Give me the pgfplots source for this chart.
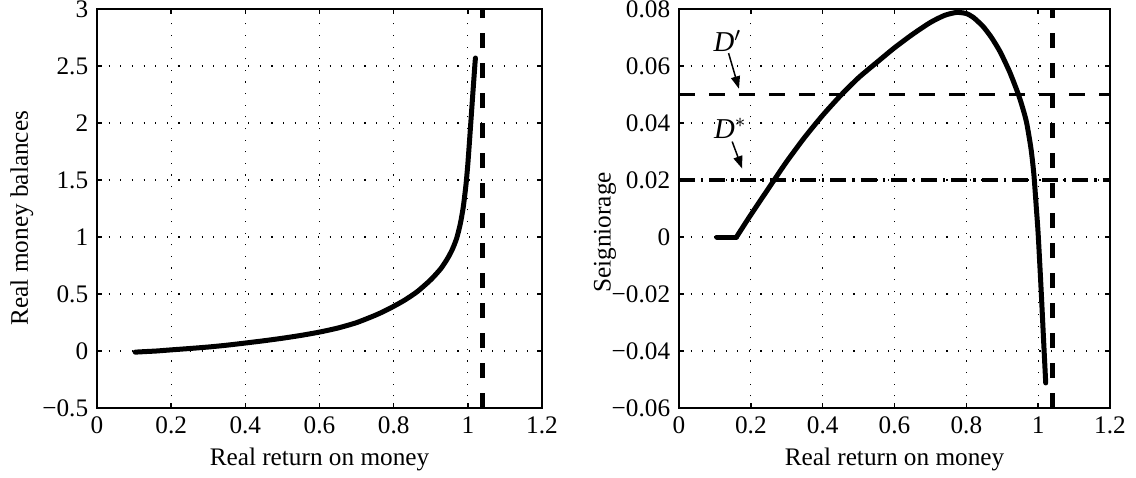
\documentclass[border=0pt]{standalone}
\usepackage{fontspec}
\setmainfont{Liberation Serif}
\usepackage{pgfplots}
\pgfplotsset{compat=1.18}
\usetikzlibrary{arrows.meta}

\pgfplotsset{
  matfig/.style={
    scale only axis, height=159.6pt,
    xmin=0, xmax=1.2,
    xtick={0,0.2,0.4,0.6,0.8,1,1.2},
    xticklabels={0,0.2,0.4,0.6,0.8,1,1.2},
    tick align=inside, tick pos=both,
    major tick length=2pt,
    xmajorgrids, ymajorgrids,
    grid style={black, line width=0.45pt, dash pattern=on 0.45pt off 4.2pt},
    axis line style={line width=0.7pt},
    every tick/.style={black, line width=0.6pt},
    tick label style={font=\fontsize{10.1}{12}\selectfont},
    label style={font=\fontsize{10.1}{12}\selectfont},
    xlabel={Real return on money},
    xlabel style={at={(axis description cs:0.5,-0.128)}, anchor=center},
  },
  curve/.style={black, line width=2pt, line join=round, line cap=round, smooth, tension=0.4},
  pole/.style={black, line width=1.9pt, dash pattern=on 6pt off 6pt},
}

\begin{document}
\begin{tikzpicture}
% left: real money balances
\begin{axis}[matfig, at={(0pt,0pt)}, anchor=south west,
  width=178pt,
  ymin=-0.5, ymax=3,
  ytick={-0.5,0,0.5,1,1.5,2,2.5,3},
  yticklabels={−0.5,0,0.5,1,1.5,2,2.5,3},
  ylabel={Real money balances},
  ylabel style={at={(axis description cs:-0.169,0.476)}, anchor=center},
]
\addplot[curve] coordinates {
  (0.103,-0.010) (0.13,-0.005) (0.16,0.000) (0.20,0.010) (0.25,0.022)
  (0.30,0.035) (0.35,0.051) (0.40,0.070) (0.45,0.090) (0.50,0.112)
  (0.55,0.137) (0.60,0.166) (0.65,0.202) (0.70,0.249) (0.75,0.313)
  (0.773,0.347) (0.80,0.392) (0.83,0.447) (0.864,0.522) (0.90,0.625)
  (0.927,0.722) (0.945,0.810) (0.958,0.890) (0.970,0.990) (0.980,1.120)
  (0.988,1.270) (0.995,1.460) (1.000,1.640) (1.006,1.910) (1.012,2.190)
  (1.019,2.510) (1.0205,2.570)
};
\addplot[pole] coordinates {(1.04,-0.5) (1.04,3)};
\end{axis}

% right: seigniorage
\begin{axis}[matfig, at={(232.8pt,0pt)}, anchor=south west,
  width=172.4pt,
  ymin=-0.06, ymax=0.08,
  ytick={-0.06,-0.04,-0.02,0,0.02,0.04,0.06,0.08},
  yticklabels={−0.06,−0.04,−0.02,0,0.02,0.04,0.06,0.08},
  ylabel={Seigniorage},
  ylabel style={at={(axis description cs:-0.172,0.44)}, anchor=center},
]
\addplot[black, line width=1.5pt, dash pattern=on 6.4pt off 5.6pt] coordinates {(0,0.05) (1.2,0.05)};
\addplot[black, line width=1.5pt, dash pattern=on 6.4pt off 2.4pt on 0.9pt off 2.4pt] coordinates {(0,0.02) (1.2,0.02)};
\addplot[black, line width=2pt, line cap=round] coordinates {(0.105,0) (0.160,0)};
\addplot[curve] coordinates {
  (0.160,0) (0.20,0.0078) (0.266,0.0202) (0.30,0.0265)
  (0.35,0.0350) (0.40,0.0427) (0.451,0.0498) (0.50,0.0559) (0.55,0.0612)
  (0.60,0.0664) (0.65,0.0711) (0.70,0.0753) (0.74,0.0778) (0.773,0.0788)
  (0.80,0.0784) (0.82,0.0770) (0.847,0.0738) (0.87,0.0700) (0.894,0.0650)
  (0.921,0.0578) (0.945,0.0500) (0.958,0.0448) (0.968,0.0400) (0.980,0.0310)
  (0.988,0.0220) (0.995,0.0100) (1.000,0.0010) (1.008,-0.0180) (1.015,-0.0360)
  (1.021,-0.0512)
};
\addplot[pole] coordinates {(1.04,-0.06) (1.04,0.08)};
\node[font=\fontsize{11.5}{13}\selectfont, inner sep=0pt] at (axis cs:0.135,0.0688) {\textit{D}$'$};
\draw[-{Triangle[length=5pt,width=3.6pt]}, line width=0.6pt] (axis cs:0.138,0.0645) -- (axis cs:0.167,0.0520);
\node[font=\fontsize{11.5}{13}\selectfont, inner sep=0pt] at (axis cs:0.143,0.0382) {\textit{D}$^{*}$};
\draw[-{Triangle[length=5pt,width=3.6pt]}, line width=0.6pt] (axis cs:0.148,0.0335) -- (axis cs:0.176,0.0240);
\end{axis}

\pgfresetboundingbox
\path[use as bounding box] (-38.8pt,-27.6pt) rectangle (415.6pt,163.2pt);
\end{tikzpicture}
\end{document}
